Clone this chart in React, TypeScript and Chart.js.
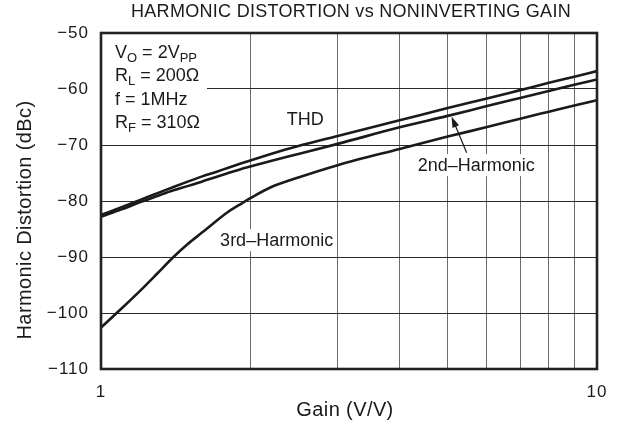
import React, { useEffect, useRef } from "react";
import { Chart, registerables } from "chart.js";

Chart.register(...registerables);

const FONT = "'Liberation Sans', Arial, Helvetica, sans-serif";

const chartTitle = "HARMONIC DISTORTION vs NONINVERTING GAIN";
const xTitle = "Gain (V/V)";
const yTitle = "Harmonic Distortion (dBc)";

const gains = [1, 1.1, 1.2, 1.3, 1.4, 1.5, 1.6, 1.7, 1.8, 1.9, 2, 2.2, 2.5, 3, 4, 5, 6, 7, 8, 9, 10];
const thd = [-82.5, -81.1, -79.8, -78.6, -77.5, -76.5, -75.6, -74.85, -74.1, -73.4, -72.75, -71.6, -70.2, -68.4, -65.6, -63.4, -61.7, -60.2, -58.9, -57.8, -56.8];
const second = [-82.8, -81.5, -80.2, -79.1, -78.1, -77.3, -76.5, -75.75, -75.05, -74.4, -73.85, -72.85, -71.6, -69.8, -66.85, -64.8, -63.05, -61.6, -60.35, -59.25, -58.3];
const third = [-102.6, -99.2, -96.0, -92.9, -90.0, -87.6, -85.6, -83.7, -82.0, -80.7, -79.5, -77.55, -75.8, -73.6, -70.7, -68.5, -66.8, -65.3, -64.05, -62.95, -62.0];

const xTickValues = [1, 2, 3, 4, 5, 6, 7, 8, 9, 10];
const xTickLabels = ["1", "", "", "", "", "", "", "", "", "10"];
const yTickValues = [-110, -100, -90, -80, -70, -60, -50];

// condition lines: [text, isSubscript][]
const conditions: [string, boolean][][] = [
  [["V", false], ["O", true], [" = 2V", false], ["PP", true]],
  [["R", false], ["L", true], [" = 200Ω", false]],
  [["f = 1MHz", false]],
  [["R", false], ["F", true], [" = 310Ω", false]],
];

// annotation anchors in data units (gain, dBc)
const thdLabel = { text: "THD", x: 2.58, y: -65.4 };
const secondLabel = { text: "2nd–Harmonic", x: 5.71, y: -73.6 };
const thirdLabel = { text: "3rd–Harmonic", x: 2.26, y: -87.0 };
const arrowTail = { x: 5.46, y: -71.4 };
const arrowHead = { x: 5.09, y: -64.9 };

export default function App() {
  const ref = useRef<HTMLCanvasElement>(null);

  useEffect(() => {
    document.body.style.margin = "0";
    const canvas = ref.current;
    if (!canvas) return;

    const spacing = {
      id: "spacing",
      beforeDraw(chart: any) {
        (chart.ctx as any).letterSpacing = "1px";
      },
      afterDraw(chart: any) {
        (chart.ctx as any).letterSpacing = "0px";
      },
    };

    const annot = {
      id: "annot",
      beforeDatasetsDraw(chart: any) {
        const { ctx, chartArea, scales } = chart;
        const xs = scales.x;
        const ys = scales.y;
        ctx.save();
        ctx.letterSpacing = "0px";
        // conditions box
        ctx.fillStyle = "#fff";
        ctx.fillRect(chartArea.left + 1, chartArea.top + 1, 105, 103);
        ctx.fillStyle = "#1a1a1a";
        ctx.textBaseline = "alphabetic";
        ctx.textAlign = "left";
        conditions.forEach((parts, i) => {
          let cx = chartArea.left + 14;
          const by = chartArea.top + 25 + i * 23.4;
          for (const [t, sub] of parts) {
            ctx.font = sub ? `13px ${FONT}` : `18px ${FONT}`;
            ctx.fillText(t, cx, sub ? by + 4 : by);
            cx += ctx.measureText(t).width;
          }
        });
        // labels
        ctx.font = `18px ${FONT}`;
        ctx.textAlign = "center";
        ctx.textBaseline = "middle";
        const label = (l: { text: string; x: number; y: number }, box: boolean) => {
          const px = xs.getPixelForValue(l.x);
          const py = ys.getPixelForValue(l.y);
          if (box) {
            const w = ctx.measureText(l.text).width;
            ctx.fillStyle = "#fff";
            ctx.fillRect(px - w / 2 - 2, py - 11, w + 4, 22);
          }
          ctx.fillStyle = "#1a1a1a";
          ctx.fillText(l.text, px, py + 1);
        };
        label(thdLabel, false);
        label(secondLabel, true);
        label(thirdLabel, true);
        // arrow
        const tx = xs.getPixelForValue(arrowTail.x);
        const ty = ys.getPixelForValue(arrowTail.y);
        const hx = xs.getPixelForValue(arrowHead.x);
        const hy = ys.getPixelForValue(arrowHead.y);
        const ang = Math.atan2(hy - ty, hx - tx);
        ctx.strokeStyle = "#1a1a1a";
        ctx.lineWidth = 1.2;
        ctx.beginPath();
        ctx.moveTo(tx, ty);
        ctx.lineTo(hx - 8 * Math.cos(ang), hy - 8 * Math.sin(ang));
        ctx.stroke();
        ctx.beginPath();
        ctx.moveTo(hx, hy);
        ctx.lineTo(hx - 11 * Math.cos(ang) + 3.5 * Math.sin(ang), hy - 11 * Math.sin(ang) - 3.5 * Math.cos(ang));
        ctx.lineTo(hx - 11 * Math.cos(ang) - 3.5 * Math.sin(ang), hy - 11 * Math.sin(ang) + 3.5 * Math.cos(ang));
        ctx.closePath();
        ctx.fillStyle = "#1a1a1a";
        ctx.fill();
        ctx.restore();
      },
      afterDatasetsDraw(chart: any) {
        const { ctx, chartArea } = chart;
        ctx.save();
        ctx.strokeStyle = "#222";
        ctx.lineWidth = 2.6;
        ctx.strokeRect(chartArea.left, chartArea.top, chartArea.right - chartArea.left, chartArea.bottom - chartArea.top);
        ctx.fillStyle = "#1a1a1a";
        ctx.textAlign = "center";
        ctx.textBaseline = "middle";
        // chart title
        ctx.letterSpacing = "0.3px";
        ctx.font = `18px ${FONT}`;
        ctx.fillText(chartTitle, (chartArea.left + chartArea.right) / 2 + 2, 12);
        // axis titles
        ctx.letterSpacing = "0.4px";
        ctx.font = `20px ${FONT}`;
        ctx.fillText(xTitle, (chartArea.left + chartArea.right) / 2 - 4, 410);
        ctx.translate(25, (chartArea.top + chartArea.bottom) / 2 + 19);
        ctx.rotate(-Math.PI / 2);
        ctx.fillText(yTitle, 0, 0);
        ctx.restore();
      },
    };

    const mk = (label: string, vals: number[]) => ({
      label,
      data: gains.map((g, i) => ({ x: g, y: vals[i] })),
      borderColor: "#1a1a1a",
      borderWidth: 2.6,
      pointRadius: 0,
      fill: false,
      cubicInterpolationMode: "monotone" as const,
    });

    const chart = new Chart(canvas, {
      type: "line",
      data: {
        datasets: [mk("THD", thd), mk("2nd-Harmonic", second), mk("3rd-Harmonic", third)],
      },
      options: {
        responsive: false,
        animation: false,
        layout: { padding: { top: 33, right: 27, left: 0, bottom: 0 } },
        plugins: {
          legend: { display: false },
          tooltip: { enabled: false },
          title: { display: false },
        },
        scales: {
          x: {
            type: "logarithmic",
            min: 1,
            max: 10,
            afterBuildTicks: (s: any) => {
              s.ticks = xTickValues.map((v) => ({ value: v }));
            },
            afterFit: (s: any) => {
              s.height = 60;
            },
            grid: { color: "#6a6a6a", lineWidth: 1, drawTicks: false },
            border: { display: false },
            ticks: {
              autoSkip: false,
              maxRotation: 0,
              padding: 13,
              color: "#1a1a1a",
              font: { family: FONT, size: 17 },
              callback: (_v: any, i: number) => xTickLabels[i],
            },
            title: { display: false },
          },
          y: {
            type: "linear",
            min: -110,
            max: -50,
            afterBuildTicks: (s: any) => {
              s.ticks = yTickValues.map((v) => ({ value: v }));
            },
            afterFit: (s: any) => {
              s.width = 101;
            },
            grid: { color: "#2a2a2a", lineWidth: 1, drawTicks: false },
            border: { display: false },
            ticks: {
              padding: 12,
              color: "#1a1a1a",
              font: { family: FONT, size: 17 },
              callback: (v: any) => "\u2212" + Math.abs(Number(v)),
            },
            title: { display: false },
          },
        },
      } as any,
      plugins: [spacing, annot],
    });

    return () => chart.destroy();
  }, []);

  return (
    <div style={{ position: "absolute", left: 0, top: 0, width: 624, height: 429, background: "#fff" }}>
      <canvas ref={ref} width={624} height={429} style={{ display: "block", width: 624, height: 429 }} />
    </div>
  );
}
